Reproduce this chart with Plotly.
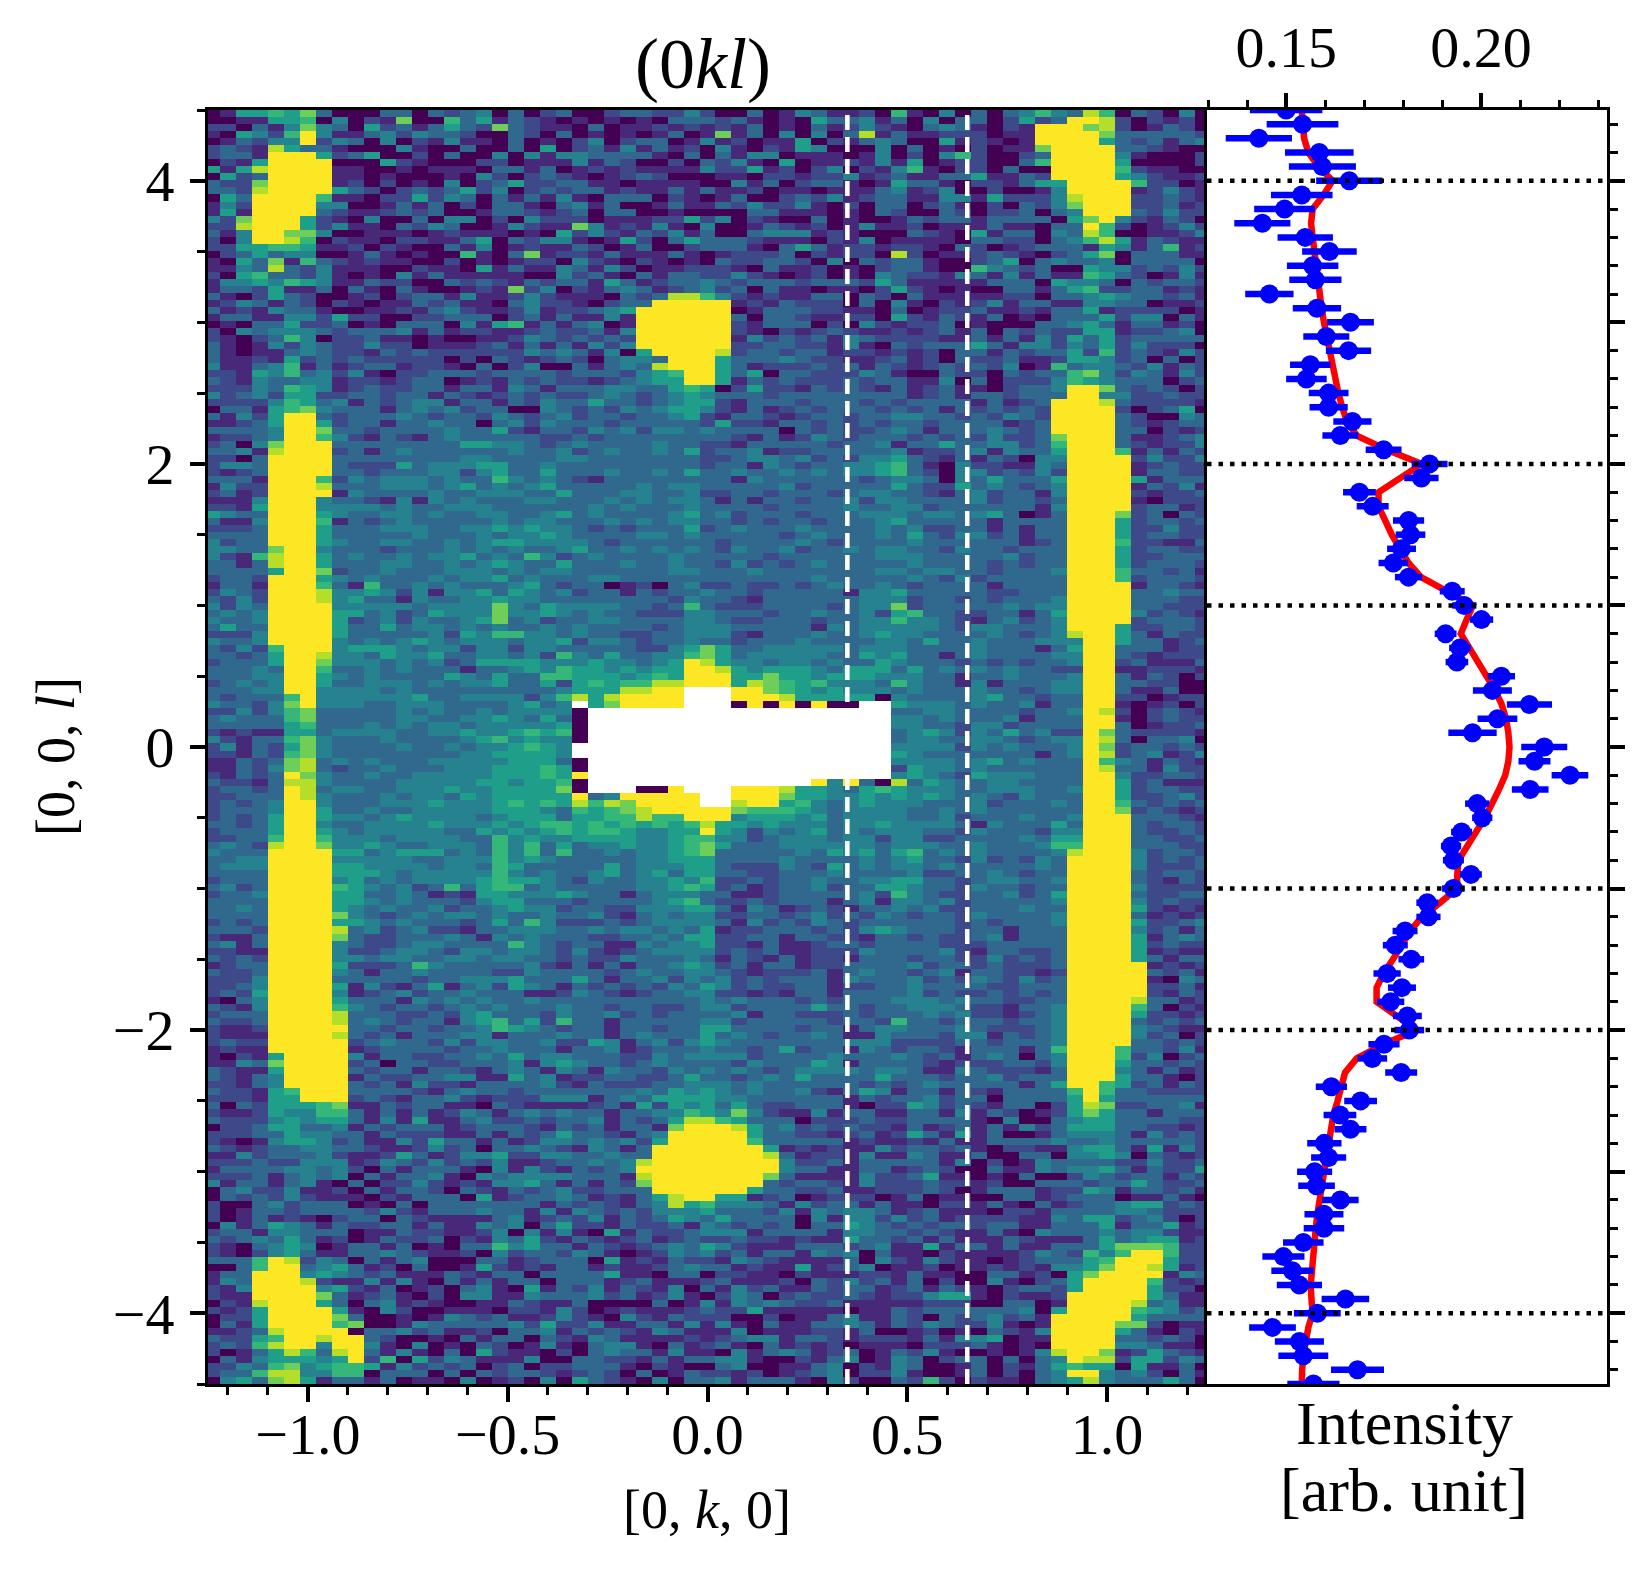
import numpy as np
import plotly.graph_objects as go
from plotly.subplots import make_subplots

# detector map, one string per row from top to bottom
# levels 0-9 along viridis, "." is a masked cell (left white)
map_rows = [
    "015565730 003303234 030230023 322420030 143112061 040303464 386032040",
    "001155604 021700635 132101010 103332310 105334130 403302523 998202120",
    "220314743 052313532 732110301 121212130 103124210 343102199 978201320",
    "105426941 134243320 032030101 013017130 404038131 122201199 997333332",
    "013244924 304021411 030102402 330141201 150213430 051210199 995323134",
    "232185331 000410030 030502314 131204102 154000403 010201179 999332100",
    "233199952 350020300 404144333 310303144 011101402 046200239 999410002",
    "021599990 005210002 201114132 002032410 501121415 012200369 999500002",
    "515899991 100101110 331301212 111142251 202402146 102203009 999621100",
    "052399991 101000104 202321012 320001102 212241231 133511329 999542112",
    "322799991 202010402 352233110 111100413 023310153 310221355 999962201",
    "332899995 320232352 402323312 113131120 110111341 240020014 999912421",
    "053999961 102252430 313141033 302101300 232412331 144152224 899922321",
    "142999944 001313020 331034130 013113242 241020330 231020324 799922312",
    "151999932 112323001 332123033 001000033 111010320 032022303 499932422",
    "427999521 040030440 204222011 122524021 003010013 233133330 579421320",
    "228999524 110324300 142117412 141040013 212014112 011131103 396201242",
    "314997740 011101211 101052421 324130034 441210003 210513304 386001124",
    "204998602 110221135 032441015 203533321 110214011 110332203 468513211",
    "225566511 202100314 012113201 300233310 353122122 103201233 315413612",
    "023534400 131010061 037122131 113101222 302122082 011232102 357033311",
    "105371632 121100201 012204210 210103223 320403233 100235034 334033330",
    "114383241 110021105 131143142 011222103 112010233 100643230 054423242",
    "205633241 010413111 110042310 313322421 012010432 214314131 165320141",
    "144546541 132200323 213233153 123343233 323332531 111133305 443032332",
    "133251130 310310012 172402134 312342303 110110252 101003313 562233121",
    "310253200 120233141 124211103 238864212 113303203 111112203 345433231",
    "124313202 101132311 034221023 399999121 322203041 021241331 144330112",
    "312143310 011213421 124122345 999999013 332211030 122311213 351222201",
    "133114425 220022333 023131141 999999303 321122052 132130103 335244031",
    "010335223 010333041 561313401 999999213 330204212 230100033 453133120",
    "204344432 333413122 112322314 999999210 212321121 231303232 255122340",
    "210236402 231101001 124323232 999999142 323143222 211313142 535233333",
    "310142432 242201112 313131424 999999223 322141032 333531442 435242220",
    "310113432 213232222 224343140 599998233 233122121 203313233 526232142",
    "311215232 322222020 321232034 439995333 432211231 203223112 554230302",
    "411346131 233122103 024003134 389995312 223231321 232324016 344324132",
    "221546342 410223332 333323332 456995350 332224310 032203233 674243142",
    "321433441 221233012 132322123 455995132 322232331 140302224 654333023",
    "222436541 232233133 143133344 335650252 213232131 231102334 997323202",
    "423425522 332331321 232322343 234543332 333333331 231332333 994422322",
    "222246534 132344133 132433533 234552133 323332323 333131239 998322221",
    "033156743 331343423 300432324 345542131 232333232 313232329 999202350",
    "314259932 333432332 432342332 334521332 123323344 332324329 999320043",
    "112359952 331334330 342433323 333325221 332323233 233331239 999321233",
    "333349973 323333433 521332434 244343333 032322343 133343239 999330212",
    "122349964 213213433 333223233 333333213 124323332 323242237 999311234",
    "230479993 333333355 443234333 343322133 333233413 353344236 999321224",
    "334189992 313433333 343342343 343523341 223333341 223414335 999613132",
    "220399993 333333344 333344333 333322344 342324453 213132044 999924224",
    "244399993 222534445 533433333 333323314 323344563 104221143 999912322",
    "212399993 323334424 533533343 343533433 434344563 204423242 999913322",
    "333199962 434443433 643432133 333333143 333332344 304353335 999951333",
    "142299983 334443453 434533333 434433333 423333353 225343234 999913241",
    "231299991 433334334 443353334 433422332 333234433 213423314 999921223",
    "111499943 321414343 334433343 434431313 323342443 333423323 999910222",
    "221599944 443433444 333333434 333433332 333343344 233333314 999923312",
    "543399954 334434334 433453433 334534233 323334443 443453013 999723032",
    "311499961 323433333 434433343 434433232 332333453 333313333 999523323",
    "222399953 334443344 545443232 333523433 343333434 223313133 999522422",
    "333399953 333343334 344543333 443433333 234333435 324423133 999523322",
    "423399954 334433434 554444323 333332333 343233334 333333123 999622113",
    "443379943 332333434 343345334 343432433 423343443 324332333 999523322",
    "421689953 433434453 436423433 334333332 333333444 333334233 999522333",
    "331389953 334433434 543353334 334332423 234333334 333323233 999523332",
    "333359972 334333444 343443333 334433343 333333443 443323334 999633231",
    "233299954 343334344 534333443 333333333 334333334 324233333 999623332",
    "133199963 163343433 345323301 203422322 323433432 333313333 999913321",
    "243299984 454241445 354342331 323343323 333314453 333322333 999933433",
    "324299984 533143344 544333333 332433213 333334442 332323334 999933322",
    "424399994 444434444 743544443 323632223 333234472 333334344 999933222",
    "343499995 534235444 744543433 222443332 334334256 332233135 999942321",
    "433499995 234243345 734233443 333443223 332334464 432134234 999923332",
    "353399995 335344343 433434333 323444333 331434444 432443334 999522332",
    "222499995 333334254 664434332 233444213 334334544 333343234 899531322",
    "433499994 343454344 434452443 233433233 343333443 533433344 499533123",
    "324269994 555434424 424433333 224575334 444434443 333433313 599333122",
    "332359984 435445334 434264353 344675344 444335453 313433334 499321222",
    "233359974 443434235 555444544 345985443 443433543 332323233 499231113",
    "333439963 343433313 345465545 455998545 554355535 343434332 299112221",
    "333449954 343333543 533665554 565999557 554555444 331334333 499313202",
    "234349953 344434344 533525656 688999587 656444364 331413334 499332200",
    "333449944 443433333 333345558 899...997 654544434 333433234 499311300",
    "323336944 444453344 442468589 999...999 855555043 333453323 399220122",
    "433247944 433444333 34534.579 999...090 90900..54 443433413 399101202",
    "224246733 333434334 344440... ......... .......33 443333233 498202321",
    "343336733 333443344 543530... ......... .......44 343334133 399102322",
    "333335633 343434434 444450... ......... .......44 332442333 399301223",
    "212115534 444334454 456560... ......... .......34 542435342 297322221",
    "421336743 334333345 645440... ......... .......34 433443234 498303340",
    "241325743 333433434 45654.... ......... .......44 442434333 497233232",
    "221326743 333333344 55554.... ......... .......54 333333313 498234124",
    "113237834 343334444 455530... ......... .......44 443453433 396431321",
    "113247832 334333444 555650... ......... .......25 443433333 398331422",
    "213239743 343344444 555659... ......... .......45 432544433 399422332",
    "322138843 333444445 545560... ......... ..9493083 543344333 399523111",
    "233239834 433444544 555570... 009...999 855435654 443344433 499523322",
    "223339843 334344354 555559349 9999..999 755445454 543432433 399522342",
    "232349943 334445444 565658687 9999..899 564345444 333423334 399632323",
    "233349953 343344444 555436567 899999766 654344443 343433333 399723212",
    "232359954 434544443 455535566 866999455 545344443 342333433 499933321",
    "332359943 344445444 545665656 565685545 444344544 443143335 399932332",
    "233359954 344444335 454565665 445595424 345343444 332433324 499932232",
    "223369964 443444433 645445555 445664423 444344244 223333435 599933223",
    "343289974 454334443 646353445 445675333 444444344 433433346 699933322",
    "433399995 534555343 646363343 445673333 343545356 343433334 899942332",
    "334499994 444433444 645433333 445553333 433334345 332423243 999942323",
    "344499995 544443443 653333353 444553222 432534344 343333343 999942223",
    "333399995 554344444 643433453 453553322 333433334 223343233 999932332",
    "233399994 534344445 655432433 445462232 334334455 332344334 999932132",
    "342399996 543423635 663433333 445652312 334233554 332433233 999942222",
    "233499995 533431215 544454331 344433112 333334264 322334235 999932233",
    "333399995 543433324 553332333 345632232 333134144 342333334 999942322",
    "334399995 434334233 454423322 444553143 123213343 422333433 999952121",
    "333399997 432343443 433433421 343442233 234232432 332433334 999931212",
    "232399995 543433323 536422232 344443142 324323333 332323334 999952234",
    "333299998 342342213 344433434 434351223 332324543 332331333 999942313",
    "211399997 322333431 434333223 343552233 133221332 322341333 999951343",
    "341399994 322344333 364323311 434452213 112332333 322233333 999952322",
    "221199994 223443244 344324212 344442323 112224333 342133223 999951211",
    "323299994 434433443 443323224 333431321 312213332 332242323 999953133",
    "123399995 222364333 334213131 334542313 312233334 233232223 999991212",
    "322399994 313343333 224333323 433443212 223134332 341332212 999993231",
    "222499993 333323344 453335313 342434232 333143334 232432423 999991043",
    "223499995 142135134 254313232 324354232 233122334 333322333 999992231",
    "232599994 123423343 331124321 233442212 133133334 232232323 999992132",
    "103499995 333143434 334333333 333343433 323233344 434332233 999983312",
    "321499996 432332343 433343323 322344233 335332334 443221334 999963021",
    "233399998 333223245 333243342 323333413 322232333 434221234 999952212",
    "322399998 343233145 635263313 333344233 333233263 323332334 999932323",
    "211299999 332332334 654323313 323355333 323313443 334322234 999943211",
    "211199998 323133344 133343313 433353432 334311433 324413234 999942302",
    "232299999 234332424 433422541 342454333 333344422 223323334 999933232",
    "121199999 123333233 433313341 233343323 523314323 321333136 999633241",
    "102159999 413322334 353443332 243444423 333433343 231343034 999624023",
    "114379999 230332233 341454332 343333243 335413333 212223324 999533232",
    "321159999 323313321 343143143 324343432 344443443 114322213 999431312",
    "321349999 132233441 153412233 223533234 353333533 323342333 999533102",
    "221349999 323142213 333421322 233444343 333332323 433333135 996523132",
    "322156999 333321343 323333333 435454343 342135413 313213333 696332222",
    "222155999 232133421 222444134 355554433 333313233 423303333 595333333",
    "303255567 113233110 321111231 525453532 233310225 423213302 587223341",
    "211254466 313131243 134343313 344654742 114133113 314132012 575331333",
    "322245455 314151134 223233413 235886533 302223223 333104003 455333322",
    "022355334 132333123 332132313 317999853 423232213 123131423 555332212",
    "222335443 313222113 132353321 349999953 322123125 315130013 444314232",
    "210145542 311425331 312443434 259999963 333312112 131133334 334333332",
    "321233443 321124230 334321431 399999995 121211423 323102211 455315142",
    "114233342 112531244 522443343 399999998 312214114 311300330 445403212",
    "222322444 124324232 411233434 899999999 422313333 314020143 333224223",
    "133334434 203133310 414213234 999999999 433113312 320031143 445313225",
    "222313434 031334104 344443331 899999997 311114223 511010300 243233132",
    "413313410 302242121 445313132 799999993 233214222 322120033 323353223",
    "034224112 031332032 132342233 399999953 322311222 320133312 254133231",
    "032324211 102133305 123343121 358995512 301222013 011003312 333011310",
    "200342333 010303333 333132321 348564443 142331311 022131031 233455232",
    "201332333 324213334 331414323 244453332 414344312 311102213 333443222",
    "201312102 330321111 341232413 235435333 304144242 312222114 355234202",
    "041354313 223313114 340352213 223143232 303354323 233233113 335133512",
    "233144333 011322112 404141051 322344413 333144332 321131043 334344211",
    "323435312 013223021 435213212 312322322 121153323 131113211 135345512",
    "210345401 331301033 645331321 234354211 133323411 513313113 335777622",
    "210245311 334321120 423324310 124342313 314340311 021111243 264699622",
    "333698243 031340003 312333051 213221432 111130421 421101233 356999522",
    "003699345 312030015 212133121 123433121 151234011 201121214 457998512",
    "133999454 323111321 330333351 103302211 021112213 110033120 579999143",
    "143999821 141410313 133033312 311123111 203242313 020041023 599996212",
    "214999945 213012034 105132413 214031423 113233123 132102332 599995220",
    "211999973 123102044 114333423 124102430 232232122 455102112 999995311",
    "021899953 034121001 132113000 030141434 322311111 222003301 999983411",
    "212599995 104200111 022142012 111232251 111101132 333333405 999965423",
    "022599997 300101432 311242104 213222002 011341132 032342319 999953333",
    "031599996 700143333 342522411 331414103 113343132 432241019 999772011",
    "112389999 033423112 033413232 143111401 112213001 201032149 999531021",
    "322569989 932001031 330321431 111212344 133212221 314450119 999332320",
    "232689949 941040103 201410344 103123103 121201110 222310109 999443110",
    "201358638 931410305 211020343 314110413 431230132 410010148 997125321",
    "031455545 926052431 114003322 131334410 021340143 023303034 988255243",
    "224367456 651423230 230223331 021003400 113402143 001302135 655051130",
    "233688446 603330303 233212320 301322120 123402241 001302034 994342031",
    "045378513 313011040 120405321 040334133 310420032 620211034 584333530",
]

# side panel: l values and intensity cut between the dashed lines
l_points = [
    4.5, 4.4, 4.3, 4.2, 4.1, 4.0, 3.9, 3.8, 3.7, 3.6, 3.5, 3.4, 3.3, 3.2, 3.1, 3.0, 2.9, 2.8, 2.7, 2.6,
    2.5, 2.4, 2.3, 2.2, 2.1, 2.0, 1.9, 1.8, 1.7, 1.6, 1.5, 1.4, 1.3, 1.2, 1.1, 1.0, 0.9, 0.8, 0.7, 0.6,
    0.5, 0.4, 0.3, 0.2, 0.1, 0.0, -0.1, -0.2, -0.3, -0.4, -0.5, -0.6, -0.7, -0.8, -0.9, -1.0, -1.1, -1.2,
    -1.3, -1.4, -1.5, -1.6, -1.7, -1.8, -1.9, -2.0, -2.1, -2.2, -2.3, -2.4, -2.5, -2.6, -2.7, -2.8, -2.9,
    -3.0, -3.1, -3.2, -3.3, -3.4, -3.5, -3.6, -3.7, -3.8, -3.9, -4.0, -4.1, -4.2, -4.3, -4.4, -4.5,
]
cut_intensity = [
    .1500, .1542, .1430, .1585, .1593, .1662, .1540, .1496, .1439, .1549, .1611, .1568, .1575, .1457, .1579,
    .1665, .1603, .1660, .1562, .1552, .1609, .1609, .1670, .1639, .1750, .1868, .1847, .1688, .1722, .1814,
    .1819, .1796, .1775, .1814, .1926, .1957, .2001, .1909, .1946, .1938, .2052, .2029, .2124, .2042, .1978,
    .2162, .2137, .2228, .2126, .1990, .2003, .1950, .1923, .1929, .1974, .1929, .1862, .1865, .1805, .1780,
    .1821, .1759, .1797, .1768, .1811, .1816, .1751, .1721, .1795, .1616, .1691, .1638, .1665, .1598, .1609,
    .1573, .1578, .1639, .1597, .1597, .1544, .1493, .1516, .1534, .1652, .1580, .1465, .1534, .1544, .1683,
    .1570,
]
cut_error = [
    .0093, .0092, .0085, .0088, .0086, .0085, .0079, .0078, .0072, .0071, .0070, .0066, .0067, .0062, .0062,
    .0060, .0059, .0058, .0052, .0052, .0051, .0049, .0049, .0046, .0046, .0046, .0044, .0042, .0041, .0040,
    .0038, .0037, .0038, .0035, .0032, .0031, .0030, .0028, .0028, .0029, .0035, .0050, .0058, .0051, .0062,
    .0059, .0041, .0047, .0047, .0031, .0026, .0027, .0026, .0027, .0028, .0029, .0028, .0031, .0032, .0032,
    .0033, .0035, .0036, .0035, .0037, .0038, .0040, .0038, .0041, .0040, .0042, .0042, .0041, .0044, .0045,
    .0045, .0047, .0047, .0050, .0052, .0052, .0054, .0054, .0058, .0061, .0060, .0060, .0063, .0064, .0068,
    .0067,
]
fit_intensity = [
    .1540, .1542, .1546, .1557, .1583, .1619, .1596, .1568, .1564, .1568, .1572, .1576, .1579, .1585, .1591,
    .1597, .1604, .1611, .1618, .1626, .1634, .1644, .1656, .1681, .1758, .1848, .1792, .1737, .1737, .1752,
    .1771, .1792, .1814, .1846, .1912, .1979, .1963, .1948, .1970, .1993, .2015, .2036, .2053, .2064, .2070,
    .2073, .2070, .2062, .2046, .2030, .2010, .1987, .1963, .1942, .1939, .1938, .1895, .1848, .1818, .1797,
    .1774, .1750, .1732, .1732, .1784, .1835, .1750, .1681, .1651, .1643, .1632, .1621, .1615, .1607, .1602,
    .1597, .1591, .1585, .1580, .1576, .1573, .1568, .1563, .1563, .1565, .1568, .1557, .1549, .1544, .1541,
    .1540,
]

slice_edges = [0.35, 0.65]
dotted_l = [4, 2, 1, -1, -2, -4]
k_ticks = [-1.0, -0.5, 0.0, 0.5, 1.0]
l_ticks = [-4, -2, 0, 2, 4]

FONT = "Liberation Serif"
W, H = 1650, 1570
LEFT, MID, RIGHT = 208 / W, 1207 / W, 1607 / W
TOP, BOTTOM = 1 - 110 / H, 1 - 1384 / H

# cells are 0.04 wide, the map is cut by the axis range; 181 rows fill the l range
rows = [r.replace(" ", "") for r in map_rows]
assert len(rows) == 181 and all(len(r) == 63 for r in rows)
z = [[np.nan if ch == "." else int(ch) for ch in r] for r in rows[::-1]]
k_centres = np.round(-1.24 + 0.04 * np.arange(63), 2)
l_centres = -4.5 + (np.arange(181) + 0.5) * 9 / 181

fig = make_subplots(rows=1, cols=2, horizontal_spacing=0)

fig.add_trace(
    go.Heatmap(x=k_centres, y=l_centres, z=z, colorscale="Viridis", zmin=0, zmax=9, showscale=False),
    row=1,
    col=1,
)
fig.add_trace(
    go.Scatter(x=fit_intensity, y=l_points, mode="lines", line=dict(color="red", width=6.5), showlegend=False),
    row=1,
    col=2,
)
fig.add_trace(
    go.Scatter(
        x=cut_intensity,
        y=l_points,
        mode="markers",
        marker=dict(color="blue", size=19),
        error_x=dict(type="data", array=cut_error, color="blue", thickness=6.5, width=0),
        showlegend=False,
    ),
    row=1,
    col=2,
)

for k in slice_edges:
    fig.add_shape(
        type="line", x0=k, x1=k, y0=0, y1=1, xref="x", yref="y domain",
        line=dict(color="white", width=4.5, dash="15px,7px"),
    )
for l in dotted_l:
    fig.add_shape(
        type="line", x0=0, x1=1, y0=l, y1=l, xref="x2 domain", yref="y2",
        line=dict(color="black", width=4.5, dash="4.5px,7px"),
    )

axis_style = dict(showline=True, linecolor="black", linewidth=3, showgrid=False, zeroline=False, mirror=True)
tick_font = dict(family=FONT, size=58, color="black")

fig.update_xaxes(
    domain=[LEFT, MID], range=[-1.25, 1.25], tickmode="array", tickvals=k_ticks, tickformat=".1f",
    ticks="outside", ticklen=15, tickwidth=3.5, tickcolor="black", tickfont=tick_font, ticklabelstandoff=-18,
    minor=dict(dtick=0.1, tick0=0, ticks="outside", ticklen=8, tickwidth=3, tickcolor="black"),
    row=1, col=1, **axis_style,
)
# the line between the panels comes from the right panel's axis only
fig.update_yaxes(
    domain=[BOTTOM, TOP], range=[-4.5, 4.5], tickmode="array", tickvals=l_ticks,
    ticks="outside", ticklen=15, tickwidth=3.5, tickcolor="black", tickfont=tick_font, ticklabelstandoff=4,
    minor=dict(dtick=0.5, tick0=0, ticks="outside", ticklen=8, tickwidth=3, tickcolor="black"),
    row=1, col=1, **{**axis_style, "mirror": False},
)
fig.update_xaxes(
    domain=[MID, RIGHT], range=[0.1297, 0.2323], side="top", dtick=0.05, tick0=0.15, tickformat=".2f",
    ticks="outside", ticklen=14, tickwidth=3.5, tickcolor="black", tickfont=tick_font, ticklabelstandoff=3,
    minor=dict(dtick=0.01, tick0=0.15, ticks="outside", ticklen=7, tickwidth=3, tickcolor="black"),
    row=1, col=2, **axis_style,
)
fig.update_yaxes(
    domain=[BOTTOM, TOP], range=[-4.5, 4.5], side="right", dtick=1, tick0=0, showticklabels=False,
    ticks="outside", ticklen=15, tickwidth=3.5, tickcolor="black",
    minor=dict(dtick=0.2, tick0=0, ticks="outside", ticklen=8, tickwidth=3, tickcolor="black"),
    row=1, col=2, **axis_style,
)

label_font = dict(family=FONT, size=54, color="black")
wide_font = dict(family=FONT, size=62, color="black")
centred = dict(xref="paper", yref="paper", xanchor="center", yanchor="middle", showarrow=False)
fig.add_annotation(text="[0, <i>k</i>, 0]", x=707 / W, y=1 - 1510 / H, font=label_font, **centred)
fig.add_annotation(text="[0, 0, <i>l</i>]", x=56 / W, y=1 - 757 / H, font=label_font, textangle=-90, **centred)
fig.add_annotation(text="Intensity", x=1404 / W, y=1 - 1423 / H, font=wide_font, **centred)
fig.add_annotation(text="[arb. unit]", x=1404 / W, y=1 - 1490 / H, font=wide_font, **centred)

fig.update_layout(
    title=dict(
        text="(0<i>kl</i>)", x=703 / W, y=1 - 63 / H, xanchor="center", yanchor="middle",
        font=dict(family=FONT, size=72, color="black"),
    ),
    width=W,
    height=H,
    margin=dict(l=0, r=0, t=0, b=0),
    paper_bgcolor="white",
    plot_bgcolor="white",
    showlegend=False,
)

# the page's default body margin would push the figure 8 px off
fig.write_html(
    "out.html",
    config=dict(displayModeBar=False),
    post_script="document.body.style.margin = '0';",
)
